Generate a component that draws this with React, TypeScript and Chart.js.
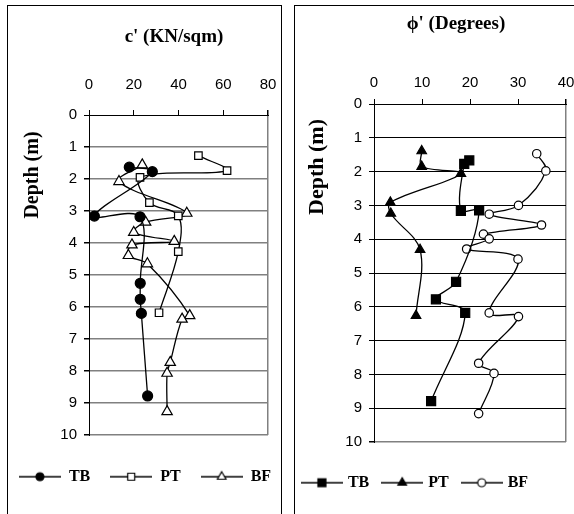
import { useEffect, useRef } from 'react';
import { Chart, registerables } from 'chart.js';

Chart.register(...registerables);

// ---------- shared ----------
const seriesNames = ['TB', 'PT', 'BF'];
const depthTicks = [0, 1, 2, 3, 4, 5, 6, 7, 8, 9, 10];

// ---------- panel 1: c' (KN/sqm) ----------
const cTicks = [0, 20, 40, 60, 80];
const cTB_value = [18.0, 28.3, 2.4, 22.8, 22.9, 22.9, 23.4, 26.2];
const cTB_depth = [1.63, 1.77, 3.16, 3.18, 5.26, 5.76, 6.2, 8.78];
const cPT_value = [48.9, 61.7, 22.8, 27.0, 39.9, 39.9, 31.3];
const cPT_depth = [1.27, 1.74, 1.95, 2.74, 3.15, 4.27, 6.18];
const cBF_value = [23.8, 13.4, 43.7, 25.3, 20.0, 38.1, 19.2, 17.6, 26.1, 45.0, 41.6, 36.3, 34.9, 34.9];
const cBF_depth = [1.56, 2.08, 3.07, 3.35, 3.67, 3.95, 4.06, 4.39, 4.65, 6.27, 6.38, 7.73, 8.07, 9.27];

// ---------- panel 2: phi' (Degrees) ----------
const pTicks = [0, 10, 20, 30, 40];
const pTB_value = [19.85, 18.8, 18.1, 21.9, 17.1, 12.9, 19.0, 11.9];
const pTB_depth = [1.67, 1.77, 3.16, 3.15, 5.26, 5.78, 6.18, 8.79];
const pPT_value = [9.94, 9.94, 18.1, 3.4, 3.5, 9.6, 8.75];
const pPT_depth = [1.39, 1.85, 2.06, 2.91, 3.24, 4.31, 6.26];
const pBF_value = [33.9, 35.8, 30.1, 24.0, 34.9, 22.8, 24.0, 19.3, 30.0, 24.0, 30.1, 21.8, 25.0, 21.8];
const pBF_depth = [1.47, 1.98, 3.0, 3.26, 3.58, 3.85, 3.99, 4.29, 4.59, 6.18, 6.29, 7.67, 7.97, 9.16];

const GREY = '#808080';
const SERIF = '"Liberation Serif", "Times New Roman", serif';
const SANS = '"Liberation Sans", Arial, sans-serif';

const zip = (xs: number[], ys: number[]) => xs.map((x, i) => ({ x, y: ys[i] }));

type MarkerSpec = { style: string; filled: boolean; r: number };

function drawMarker(ctx: CanvasRenderingContext2D, m: MarkerSpec, x: number, y: number) {
  ctx.beginPath();
  if (m.style === 'circle') {
    ctx.arc(x, y, m.r, 0, Math.PI * 2);
  } else if (m.style === 'rect') {
    ctx.rect(x - m.r, y - m.r, m.r * 2, m.r * 2);
  } else {
    ctx.moveTo(x, y - m.r);
    ctx.lineTo(x + m.r * 0.866, y + m.r * 0.5);
    ctx.lineTo(x - m.r * 0.866, y + m.r * 0.5);
    ctx.closePath();
  }
  ctx.fillStyle = m.filled ? '#000' : '#fff';
  ctx.fill();
  ctx.lineWidth = 1.2;
  ctx.strokeStyle = '#000';
  ctx.stroke();
}

function makeIcon(m: MarkerSpec, width: number) {
  const c = document.createElement('canvas');
  c.width = width;
  c.height = 14;
  const ctx = c.getContext('2d')!;
  ctx.strokeStyle = '#000';
  ctx.lineWidth = 1.3;
  ctx.beginPath();
  ctx.moveTo(0, 7);
  ctx.lineTo(width, 7);
  ctx.stroke();
  drawMarker(ctx, m, width / 2, 7);
  return c;
}

const panelText = {
  id: 'panelText',
  afterDraw(chart: any, _args: any, opts: any) {
    const ctx = chart.ctx;
    for (const t of opts.items || []) {
      ctx.save();
      ctx.font = t.font;
      ctx.fillStyle = '#000';
      ctx.textAlign = 'center';
      ctx.textBaseline = 'middle';
      ctx.translate(t.x, t.y);
      if (t.rotate) ctx.rotate(t.rotate);
      ctx.fillText(t.text, 0, 0);
      ctx.restore();
    }
  },
};

type PanelSpec = {
  xTicks: number[];
  series: { x: number[]; y: number[]; marker: MarkerSpec; legend: MarkerSpec }[];
  gridColor: string;
  gridWidth: number;
  xAxisH: number;
  yAxisW: number;
  rightSpace: number;
  xTickPad: number;
  yTickPad: number;
  pad: { right: number; bottom: number };
  legendPad: number;
  legendTitlePad: number;
  boxW: number;
  iconW: number;
  title: { text: string; x: number; y: number; size: number };
  yTitle: { text: string; x: number; y: number; size: number };
};

function buildChart(canvas: HTMLCanvasElement, p: PanelSpec) {
  const xMax = p.xTicks[p.xTicks.length - 1];
  const yMax = depthTicks[depthTicks.length - 1];
  const icons = p.series.map((s) => makeIcon(s.legend, p.iconW));
  const datasets = p.series.map((s, i) => ({
    label: seriesNames[i],
    data: zip(s.x, s.y),
    showLine: true,
    tension: 0.35,
    borderColor: '#000',
    borderWidth: 1.3,
    pointStyle: s.marker.style,
    pointRadius: s.marker.r,
    pointBackgroundColor: s.marker.filled ? '#000' : '#fff',
    pointBorderColor: '#000',
    pointBorderWidth: 1.2,
    pointHoverRadius: s.marker.r,
  }));
  const scales: any = {
    x: {
      type: 'linear',
      position: 'top',
      min: 0,
      max: xMax,
      afterBuildTicks: (s: any) => {
        s.ticks = p.xTicks.map((v) => ({ value: v }));
      },
      afterFit: (s: any) => {
        s.height = p.xAxisH;
      },
      ticks: {
        color: '#000',
        font: { family: SANS, size: 15 },
        padding: p.xTickPad,
        maxRotation: 0,
        autoSkip: false,
      },
      grid: {
        drawOnChartArea: true,
        color: (c: any) => (c.tick && c.tick.value === xMax ? GREY : 'rgba(0,0,0,0)'),
        lineWidth: (c: any) => (c.tick && c.tick.value === xMax ? 1.5 : 1),
        tickColor: '#000',
        tickLength: 5,
      },
      border: { color: '#000', width: 1 },
    },
    y: {
      type: 'linear',
      position: 'left',
      reverse: true,
      min: 0,
      max: yMax,
      afterBuildTicks: (s: any) => {
        s.ticks = depthTicks.map((v) => ({ value: v }));
      },
      afterFit: (s: any) => {
        s.width = p.yAxisW;
      },
      ticks: {
        color: '#000',
        font: { family: SANS, size: 15 },
        padding: p.yTickPad,
        autoSkip: false,
      },
      grid: {
        color: (c: any) =>
          c.tick && c.tick.value === 0 ? '#000' : c.tick && c.tick.value === yMax ? GREY : p.gridColor,
        lineWidth: (c: any) =>
          c.tick && c.tick.value === 0 ? 1 : c.tick && c.tick.value === yMax ? 1.5 : p.gridWidth,
        tickColor: '#000',
        tickLength: 5,
      },
      border: { color: '#000', width: 1 },
    },
  };
  if (p.rightSpace > 0) {
    scales.spacer = {
      type: 'linear',
      position: 'right',
      display: true,
      afterFit: (s: any) => {
        s.width = p.rightSpace;
      },
      ticks: { display: false },
      grid: { display: false, drawTicks: false },
      border: { display: false },
    };
  }
  return new Chart(canvas, {
    type: 'scatter',
    data: { datasets } as any,
    options: {
      animation: false,
      responsive: false,
      maintainAspectRatio: false,
      events: [],
      layout: { padding: { left: 0, top: 0, right: p.pad.right, bottom: p.pad.bottom } },
      scales,
      plugins: {
        tooltip: { enabled: false },
        title: { display: false },
        legend: {
          display: true,
          position: 'bottom',
          align: 'center',
          title: { display: true, text: '', font: { size: 1 }, padding: { top: p.legendTitlePad, bottom: 0 } },
          labels: {
            usePointStyle: true,
            pointStyleWidth: p.boxW,
            padding: p.legendPad,
            color: '#000',
            font: { family: SERIF, size: 16, weight: 'bold' },
            generateLabels: (chart: any) =>
              chart.data.datasets.map((ds: any, i: number) => ({
                text: ds.label,
                pointStyle: icons[i],
                fillStyle: 'rgba(0,0,0,0)',
                strokeStyle: 'rgba(0,0,0,0)',
                lineWidth: 0,
                hidden: false,
                datasetIndex: i,
                fontColor: '#000',
              })),
          },
        },
        panelText: {
          items: [
            { text: p.title.text, x: p.title.x, y: p.title.y, font: `bold ${p.title.size}px ${SERIF}` },
            {
              text: p.yTitle.text,
              x: p.yTitle.x,
              y: p.yTitle.y,
              font: `bold ${p.yTitle.size}px ${SERIF}`,
              rotate: -Math.PI / 2,
            },
          ],
        },
      } as any,
    },
    plugins: [panelText as any],
  });
}

// left canvas spans page x -5..295
const leftSpec: PanelSpec = {
  xTicks: cTicks,
  series: [
    { x: cTB_value, y: cTB_depth, marker: { style: 'circle', filled: true, r: 5 }, legend: { style: 'circle', filled: true, r: 4 } },
    { x: cPT_value, y: cPT_depth, marker: { style: 'rect', filled: false, r: 5.3 }, legend: { style: 'rect', filled: false, r: 3.5 } },
    { x: cBF_value, y: cBF_depth, marker: { style: 'triangle', filled: false, r: 6 }, legend: { style: 'triangle', filled: false, r: 5 } },
  ],
  gridColor: GREY,
  gridWidth: 1.5,
  xAxisH: 115,
  yAxisW: 94,
  rightSpace: 27,
  xTickPad: 16,
  yTickPad: 7,
  pad: { right: 0, bottom: 19.3 },
  legendPad: 20,
  legendTitlePad: 12.5,
  boxW: 42,
  iconW: 42,
  title: { text: "c' (KN/sqm)", x: 179, y: 37, size: 19 },
  yTitle: { text: 'Depth (m)', x: 37.5, y: 175, size: 20 },
};

// right canvas spans page x 266..586
const rightSpec: PanelSpec = {
  xTicks: pTicks,
  series: [
    { x: pTB_value, y: pTB_depth, marker: { style: 'rect', filled: true, r: 6.4 }, legend: { style: 'rect', filled: true, r: 4 } },
    { x: pPT_value, y: pPT_depth, marker: { style: 'triangle', filled: true, r: 5.5 }, legend: { style: 'triangle', filled: true, r: 5 } },
    { x: pBF_value, y: pBF_depth, marker: { style: 'circle', filled: false, r: 4.2 }, legend: { style: 'circle', filled: false, r: 4 } },
  ],
  gridColor: '#000',
  gridWidth: 1,
  xAxisH: 104,
  yAxisW: 108,
  rightSpace: 0,
  xTickPad: 7,
  yTickPad: 7,
  pad: { right: 20, bottom: 13.3 },
  legendPad: 15,
  legendTitlePad: 16.5,
  boxW: 36,
  iconW: 42,
  title: { text: "ϕ' (Degrees)", x: 190, y: 24, size: 19 },
  yTitle: { text: 'Depth (m)', x: 51.5, y: 167, size: 22 },
};

export default function App() {
  const leftRef = useRef<HTMLCanvasElement>(null);
  const rightRef = useRef<HTMLCanvasElement>(null);

  useEffect(() => {
    const a = buildChart(leftRef.current!, leftSpec);
    const b = buildChart(rightRef.current!, rightSpec);
    return () => {
      a.destroy();
      b.destroy();
    };
  }, []);

  return (
    <div style={{ position: 'absolute', left: 0, top: 0, width: 574, height: 514, overflow: 'hidden', background: '#fff' }}>
      <div style={{ position: 'absolute', left: 7, top: 5, width: 273, height: 560, border: '1px solid #000' }} />
      <div style={{ position: 'absolute', left: 294, top: 5, width: 400, height: 560, border: '1px solid #000' }} />
      <canvas ref={leftRef} width={300} height={514} style={{ position: 'absolute', left: -5, top: 0, width: 300, height: 514 }} />
      <canvas ref={rightRef} width={320} height={514} style={{ position: 'absolute', left: 266, top: 0, width: 320, height: 514 }} />
    </div>
  );
}
